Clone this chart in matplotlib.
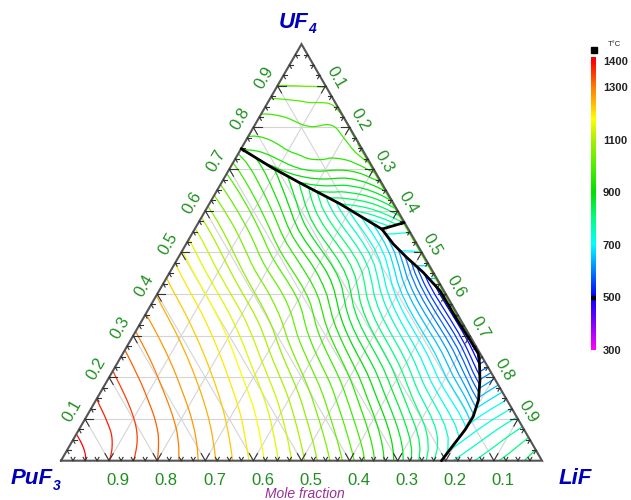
import numpy as np
import matplotlib
matplotlib.use("Agg")
import matplotlib.pyplot as plt
import matplotlib.tri as mtri
from matplotlib.colors import LinearSegmentedColormap, Normalize
from matplotlib.patches import Polygon, Rectangle

plt.rcParams['font.family'] = ['Liberation Sans', 'DejaVu Sans']

H = np.sqrt(3) / 2
PX = 481.0                 # pixels per unit of composition
X0, Y0 = 61.0, 460.7       # PuF3 corner, image pixels from top-left

# ---- colour scale (degC) ----
CMAP_T = [300, 400, 500, 600, 700, 800, 900, 1000, 1100, 1180, 1250, 1300, 1350, 1400]
CMAP_C = ['#ff00ff', '#8000ff', '#0000ff', '#0080ff', '#00ffff', '#00ff80', '#00e000',
          '#50f000', '#a8f000', '#ffff00', '#ffb000', '#ff8000', '#ff4000', '#ff0000']
CBAR_TICKS = [300, 500, 700, 900, 1100, 1300, 1400]
LEVELS = list(range(475, 1426, 25))

# ---- liquidus, PuF3 primary field: rows x(PuF3), cols xUF4/(xUF4+xLiF) ----
PUF3_TM = 1426
PUF3_P = [0.9, 0.8, 0.7, 0.6, 0.5, 0.4, 0.3, 0.2, 0.15, 0.1, 0.05, 0.02, 0.0]
PUF3_R = [0.0, 0.25, 0.5, 0.75, 1.0]
PUF3_T = [
    [1375, 1383, 1387, 1388, 1388],
    [1325, 1341, 1351, 1355, 1357],
    [1265, 1285, 1296, 1303, 1306],
    [1193, 1219, 1236, 1245, 1248],
    [1106, 1142, 1163, 1175, 1179],
    [1010, 1047, 1070, 1080, 1085],
    [890, 945, 975, 985, 990],
    [744, 820, 855, 868, 875],
    [690, 750, 790, 805, 810],
    [640, 680, 715, 740, 750],
    [560, 590, 620, 645, 650],
    [480, 515, 545, 565, 570],
    [420, 470, 500, 520, 520],
]

# ---- LiF primary field: rows x(LiF), cols xUF4/(xUF4+xPuF3) ----
LIF_TM = 848
LIF_L = [0.95, 0.9, 0.85, 0.8, 0.75, 0.7]
LIF_S = [0.0, 0.5, 1.0]
LIF_T = [
    [818, 812, 805],
    [795, 778, 755],
    [770, 738, 695],
    [740, 690, 620],
    [710, 630, 530],
    [680, 570, 440],
]

# ---- UF4 primary field: rows x(UF4), cols xLiF/(xLiF+xPuF3) ----
UF4_TM = 1035
UF4_U = [0.9, 0.8, 0.7, 0.6, 0.5]
UF4_Q = [0.0, 0.33, 0.67, 0.9, 1.0]
UF4_T = [
    [1024, 1025, 1026, 1027, 1028],
    [960, 967, 974, 980, 1002],
    [855, 897, 930, 938, 962],
    [640, 695, 766, 803, 845],
    [500, 540, 600, 630, 680],
]

# ---- narrow LiF-UF4 compound fields along the LiF-UF4 side ----
STRIP_U = [0.6, 0.573, 0.5, 0.45, 0.4, 0.35, 0.3, 0.25]
STRIP_T = [760, 740, 700, 660, 620, 575, 530, 490]

# ---- field boundaries (x LiF, x UF4) ----
UPPER_L = [0.0, 0.082, 0.163, 0.271, 0.389]
UPPER_U = [0.749, 0.706, 0.667, 0.617, 0.556]
SHORT_L = [0.389, 0.4275]
SHORT_U = [0.556, 0.5715]
MAIN_L = [0.389, 0.431, 0.4747, 0.527, 0.584, 0.648, 0.706, 0.739, 0.753, 0.774,
          0.795, 0.804, 0.803, 0.797, 0.791]
MAIN_U = [0.556, 0.520, 0.488, 0.452, 0.408, 0.3445, 0.289, 0.257, 0.234, 0.194,
          0.146, 0.106, 0.074, 0.038, 0.0]
LIF_TIP = (0.737, 0.263)

# isotherm bundle pressed against the LiF-UF4 side
EDGE_U = [0.76, 0.26]
EDGE_T = 1000

AXIS_VALUES = [0.1, 0.2, 0.3, 0.4, 0.5, 0.6, 0.7, 0.8, 0.9]


def xy(l, u):
    l = np.asarray(l, float)
    u = np.asarray(u, float)
    return l + u / 2, u * H


def pix(xp, yp):
    return (xp - X0) / PX, (Y0 - yp) / PX


cmap = LinearSegmentedColormap.from_list(
    'liq', [((t - 300) / 1100, c) for t, c in zip(CMAP_T, CMAP_C)])
norm = Normalize(300, 1400)

fig = plt.figure(figsize=(6.31, 5.0), dpi=100)
ax = fig.add_axes([0, 0, 1, 1])
ax.set_xlim(pix(0, 0)[0], pix(631, 0)[0])
ax.set_ylim(pix(0, 500)[1], pix(0, 0)[1])
ax.axis('off')

# grid
for v in AXIS_VALUES:
    for (l0, u0), (l1, u1) in [((0, v), (1 - v, v)), ((v, 0), (v, 1 - v)), ((1 - v, 0), (0, 1 - v))]:
        gx, gy = xy([l0, l1], [u0, u1])
        ax.plot(gx, gy, color='#d4d4d4', lw=0.8, zorder=1)


def draw_field(l, u, t, boundary):
    x, y = xy(l, u)
    tri = mtri.Triangulation(x, y)
    tri_f, t_f = mtri.UniformTriRefiner(tri).refine_field(np.asarray(t, float), subdiv=3)
    cs = ax.tricontour(tri_f, t_f, levels=LEVELS, cmap=cmap, norm=norm,
                       linewidths=0.9, zorder=2)
    bl, bu = zip(*boundary)
    bx, by = xy(bl, bu)
    cs.set_clip_path(Polygon(np.column_stack([bx, by]), closed=True, transform=ax.transData))


upper = list(zip(UPPER_L, UPPER_U))
main = list(zip(MAIN_L, MAIN_U))
k_tip = MAIN_U.index(0.257)

# PuF3 field
l, u, t = [0.0], [0.0], [PUF3_TM]
for i, p in enumerate(PUF3_P):
    for j, r in enumerate(PUF3_R):
        l.append((1 - p) * (1 - r)); u.append((1 - p) * r); t.append(PUF3_T[i][j])
draw_field(l, u, t, [(0, 0)] + main[::-1] + upper[::-1])

# LiF field
l, u, t = [1.0], [0.0], [LIF_TM]
for i, lv in enumerate(LIF_L):
    for j, s in enumerate(LIF_S):
        l.append(lv); u.append(s * (1 - lv)); t.append(LIF_T[i][j])
draw_field(l, u, t, [(1, 0), LIF_TIP] + main[k_tip:])

# UF4 field
l, u, t = [0.0], [1.0], [UF4_TM]
for i, uv in enumerate(UF4_U):
    for j, q in enumerate(UF4_Q):
        l.append(q * (1 - uv)); u.append(uv); t.append(UF4_T[i][j])
draw_field(l, u, t, [(0, 1)] + upper + [(SHORT_L[1], SHORT_U[1])])

# compound strip
l = [1 - v for v in STRIP_U] + [0.93 - v for v in STRIP_U]
u = STRIP_U + STRIP_U
t = STRIP_T + STRIP_T
draw_field(l, u, t, [(SHORT_L[1], SHORT_U[1])] + main[:k_tip + 1] + [LIF_TIP])

# isotherms pressed against the LiF-UF4 side
ex, ey = xy([1 - v for v in EDGE_U], EDGE_U)
ax.plot(ex - 0.002, ey, color=cmap(norm(EDGE_T)), lw=1.4, zorder=3)

# triangle frame
fx, fy = xy([0, 1, 0, 0], [0, 0, 1, 0])
ax.plot(fx, fy, color='#555555', lw=1.5, zorder=4, solid_joinstyle='miter')

# ticks (chevrons pointing along grid directions)
for k in range(1, 40):
    v = k / 40
    ln = 0.017 if k % 4 == 0 else 0.008
    pts = [(xy(v, 0), [(0.5, H), (-0.5, H)]),
           (xy(0, v), [(1, 0), (0.5, -H)]),
           (xy(1 - v, v), [(-1, 0), (-0.5, -H)])]
    for (px0, py0), dirs in pts:
        for dx, dy in dirs:
            ax.plot([px0, px0 + ln * dx], [py0, py0 + ln * dy], color='#333333', lw=0.8, zorder=4)

# phase boundaries
for bl, bu in [(UPPER_L, UPPER_U), (SHORT_L, SHORT_U), (MAIN_L, MAIN_U)]:
    bx, by = xy(bl, bu)
    ax.plot(bx, by, color='black', lw=2.0, zorder=5, solid_capstyle='round')

# axis labels
green = '#1f8f1f'
for v in AXIS_VALUES:
    bx, by = xy(v, 0)
    ax.text(bx + 0.019, by - 0.042, f'{1 - v:.1f}', color=green, fontsize=12,
            ha='center', va='center')
    lx, ly = xy(0, v)
    ax.text(lx - 0.027, ly + 0.017, f'{v:.1f}', color=green, fontsize=12,
            ha='center', va='center', rotation=60)
    rx, ry = xy(1 - v, v)
    ax.text(rx + 0.022, ry + 0.016, f'{1 - v:.1f}', color=green, fontsize=12,
            ha='center', va='center', rotation=-60)

blue = '#0000bb'
ax.text(*pix(308, 22.5), 'UF', color=blue, fontsize=16, fontweight='bold',
        fontstyle='italic', ha='right', va='center')
ax.text(*pix(308, 29), '4', color=blue, fontsize=10, fontweight='bold',
        fontstyle='italic', ha='left', va='center')
ax.text(*pix(53, 479), 'PuF', color=blue, fontsize=16, fontweight='bold',
        fontstyle='italic', ha='right', va='center')
ax.text(*pix(53, 486), '3', color=blue, fontsize=10, fontweight='bold',
        fontstyle='italic', ha='left', va='center')
ax.text(*pix(575, 478), 'LiF', color=blue, fontsize=16, fontweight='bold',
        fontstyle='italic', ha='center', va='center')
ax.text(*pix(305, 494), 'Mole fraction', color='#9b2d9b', fontsize=10,
        fontstyle='italic', ha='center', va='center')

# colour bar
cax = fig.add_axes([591 / 631, 150 / 500, 5 / 631, 293 / 500])
grad = np.linspace(300, 1414, 500)[:, None]
cax.imshow(grad, aspect='auto', origin='lower', extent=[0, 1, 300, 1414], cmap=cmap, norm=norm)
cax.axhspan(494, 506, color='black')
cax.set_ylim(300, 1414)
cax.set_xticks([])
cax.yaxis.tick_right()
cax.set_yticks(CBAR_TICKS)
cax.tick_params(length=0, labelsize=8, pad=5, labelcolor='#222222')
for lab in cax.get_yticklabels():
    lab.set_fontweight('bold')
for sp in cax.spines.values():
    sp.set_visible(False)
fig.patches.append(Rectangle((590.5 / 631, 447 / 500), 6 / 631, 6 / 500,
                             transform=fig.transFigure, color='black'))
fig.text(614 / 631, 455 / 500, 'T°C', fontsize=5.5, ha='center', va='center', color='#222222')

fig.savefig('out.png', dpi=100)
